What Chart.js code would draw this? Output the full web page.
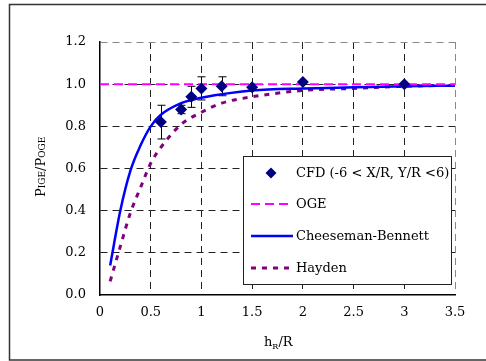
<!DOCTYPE html>
<html>
<head>
<meta charset="utf-8">
<script src="https://cdn.jsdelivr.net/npm/chart.js@4.4.0/dist/chart.umd.min.js"></script>
<style>
  html, body { margin: 0; padding: 0; background: #fff; }
  #wrap { width: 486px; height: 361px; }
</style>
</head>
<body>
<div id="wrap"><canvas id="groundChart" width="486" height="361"></canvas></div>
<script>
// CFD points with error bars
const cfdX = [0.6, 0.8, 0.9, 1.0, 1.2, 1.5, 2.0, 3.0];
const cfdY = [0.82, 0.88, 0.94, 0.98, 0.99, 0.985, 1.01, 1.00];
const cfdErr = [0.08, 0.02, 0.05, 0.055, 0.045, 0, 0, 0];

// OGE reference line
const ogeX = [0, 3.5];
const ogeY = [1.0, 1.0];

// Cheeseman-Bennett curve
const cbX = [0.1, 0.2, 0.3, 0.4, 0.5, 0.6, 0.8, 0.9, 1.0, 1.5, 2.0, 2.5, 3.0, 3.5];
const cbY = [0.14, 0.40, 0.59, 0.71, 0.80, 0.855, 0.91, 0.925, 0.936, 0.97, 0.98, 0.985, 0.99, 0.993];

// Hayden curve
const hayX = [0.1, 0.2, 0.3, 0.4, 0.5, 0.6, 0.7, 0.8, 1.0, 1.2, 1.5, 2.0, 2.5, 3.0, 3.5];
const hayY = [0.065, 0.23, 0.39, 0.51, 0.625, 0.70, 0.76, 0.81, 0.867, 0.91, 0.94, 0.97, 0.98, 0.99, 0.995];

const legendLabels = ['CFD (-6 < X/R, Y/R <6)', 'OGE', 'Cheeseman-Bennett', 'Hayden'];

const toPts = (xs, ys) => xs.map((x, i) => ({ x: x, y: ys[i] }));
const FONT = '"DejaVu Serif", "Liberation Serif", serif';

const ctx = document.getElementById('groundChart').getContext('2d');

// frame, error bars, legend box and axis titles
const extras = {
    id: 'extras',
    beforeDatasetsDraw(chart) {
        const c = chart.ctx, xs = chart.scales.x, ys = chart.scales.y;
        c.save();
        c.strokeStyle = '#000';
        c.lineWidth = 1;
        cfdX.forEach((x, i) => {
            if (!cfdErr[i]) return;
            const px = Math.round(xs.getPixelForValue(x)) + 0.5;
            const top = ys.getPixelForValue(cfdY[i] + cfdErr[i]);
            const bot = ys.getPixelForValue(cfdY[i] - cfdErr[i]);
            c.beginPath();
            c.moveTo(px, top); c.lineTo(px, bot);
            c.moveTo(px - 4, top); c.lineTo(px + 4, top);
            c.moveTo(px - 4, bot); c.lineTo(px + 4, bot);
            c.stroke();
        });
        c.restore();
    },
    afterDraw(chart) {
        const c = chart.ctx;
        const ds = chart.data.datasets;
        c.save();
        // outer frame (right side falls off the picture)
        c.strokeStyle = '#333';
        c.lineWidth = 1.5;
        c.strokeRect(9.5, 4.5, 490, 355.5);

        // legend box
        const bx = 243.5, by = 156.5, bw = 208, bh = 128;
        c.fillStyle = '#fff';
        c.fillRect(bx, by, bw, bh);
        c.strokeStyle = '#222';
        c.lineWidth = 1;
        c.strokeRect(bx, by, bw, bh);

        c.font = '13px ' + FONT;
        c.textBaseline = 'middle';
        c.textAlign = 'left';
        const rows = [173, 204, 236, 268];
        // marker
        c.fillStyle = ds[0].backgroundColor;
        c.beginPath();
        c.moveTo(271, rows[0] - 5.5); c.lineTo(276.5, rows[0]);
        c.lineTo(271, rows[0] + 5.5); c.lineTo(265.5, rows[0]);
        c.closePath(); c.fill();
        // sample lines
        [1, 2, 3].forEach(k => {
            c.strokeStyle = ds[k].borderColor;
            c.lineWidth = ds[k].borderWidth;
            c.setLineDash(ds[k].borderDash || []);
            c.beginPath();
            c.moveTo(251, rows[k]);
            c.lineTo(k === 2 ? 293 : 291, rows[k]);
            c.stroke();
        });
        c.setLineDash([]);
        c.fillStyle = '#000';
        legendLabels.forEach((t, k) => c.fillText(t, 296, rows[k] + 1));

        // x title: h_R/R
        c.font = '13px ' + FONT;
        c.textBaseline = 'alphabetic';
        let x0 = 264, y0 = 346;
        c.fillText('h', x0, y0);
        x0 += c.measureText('h').width;
        c.font = '8px ' + FONT;
        c.fillText('R', x0, y0 + 3);
        x0 += c.measureText('R').width;
        c.font = '13px ' + FONT;
        c.fillText('/R', x0, y0);

        // y title: PIGE/POGE, small caps style
        c.translate(45, 197);
        c.rotate(-Math.PI / 2);
        const parts = [['P', 13], ['IGE', 9], ['/P', 13], ['OGE', 9]];
        let px = 0;
        parts.forEach(p => {
            c.font = p[1] + 'px ' + FONT;
            c.fillText(p[0], px, 0);
            px += c.measureText(p[0]).width;
        });
        c.restore();
    }
};

// last grid line on each axis is grey, the first one is covered by the axis
const gridColor = (g, last) => g.index === 0 ? 'rgba(0,0,0,0)' : (g.index === last ? '#888' : '#222');

new Chart(ctx, {
    type: 'scatter',
    data: {
        datasets: [{
            label: legendLabels[0],
            data: toPts(cfdX, cfdY),
            pointStyle: 'rectRot',
            pointRadius: 6,
            backgroundColor: '#000080',
            borderColor: '#000080',
            borderWidth: 0,
            showLine: false
        }, {
            label: legendLabels[1],
            data: toPts(ogeX, ogeY),
            showLine: true,
            pointRadius: 0,
            borderColor: '#FF00FF',
            borderWidth: 2,
            borderDash: [9, 5]
        }, {
            label: legendLabels[2],
            data: toPts(cbX, cbY),
            showLine: true,
            pointRadius: 0,
            borderColor: '#0000FF',
            borderWidth: 2.5,
            cubicInterpolationMode: 'monotone'
        }, {
            label: legendLabels[3],
            data: toPts(hayX, hayY),
            showLine: true,
            pointRadius: 0,
            borderColor: '#800080',
            borderWidth: 3,
            borderDash: [5, 6],
            cubicInterpolationMode: 'monotone'
        }]
    },
    options: {
        responsive: false,
        animation: false,
        layout: { padding: { left: 40, top: 42, right: 31, bottom: 36 } },
        plugins: {
            legend: { display: false },
            tooltip: { enabled: false }
        },
        scales: {
            x: {
                type: 'linear',
                min: 0,
                max: 3.5,
                afterFit: s => { s.height = 30; },
                ticks: {
                    stepSize: 0.5,
                    padding: 10,
                    color: '#000',
                    font: { family: FONT, size: 13 },
                    callback: v => String(v)
                },
                grid: {
                    drawTicks: false,
                    color: g => gridColor(g, 7),
                    lineWidth: 1
                },
                border: { display: true, color: '#000', width: 1.5, dash: [7, 5] }
            },
            y: {
                min: 0,
                max: 1.2,
                afterFit: s => { s.width = 60; },
                ticks: {
                    stepSize: 0.2,
                    padding: 14,
                    color: '#000',
                    font: { family: FONT, size: 13 },
                    callback: v => v.toFixed(1)
                },
                grid: {
                    drawTicks: false,
                    color: g => gridColor(g, 6),
                    lineWidth: 1
                },
                border: { display: true, color: '#000', width: 1.5, dash: [7, 5] }
            }
        }
    },
    plugins: [extras]
});
</script>
</body>
</html>
